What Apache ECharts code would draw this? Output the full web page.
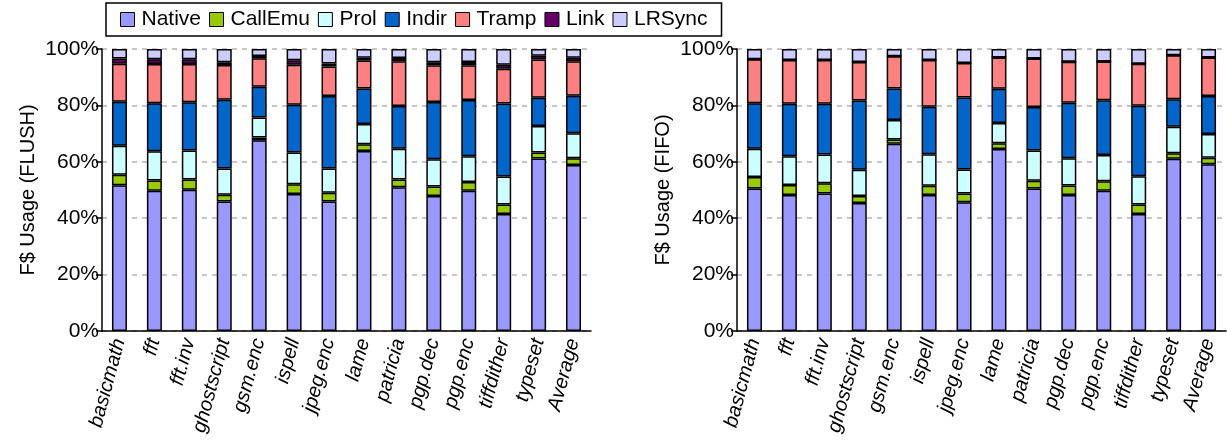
<!DOCTYPE html>
<html>
<head>
<meta charset="utf-8">
<script src="https://cdn.jsdelivr.net/npm/echarts@6/dist/echarts.min.js"></script>
<style>
  html, body { margin: 0; padding: 0; background: #fff; }
  #chart { width: 1227px; height: 444px; }
</style>
</head>
<body>
<div id="chart"></div>
<script>
// Benchmarks on the x axis
const categories = ['basicmath', 'fft', 'fft.inv', 'ghostscript', 'gsm.enc', 'ispell', 'jpeg.enc',
  'lame', 'patricia', 'pgp.dec', 'pgp.enc', 'tiffdither', 'typeset', 'Average'];

const seriesNames = ['Native', 'CallEmu', 'Prol', 'Indir', 'Tramp', 'Link', 'LRSync'];
const seriesColors = ['#9999FF', '#99CC00', '#CCFFFF', '#0066CC', '#FF8080', '#660066', '#CCCCFF'];

// F$ usage breakdown (percent) with the FLUSH policy
const flushNative  = [51.7, 49.7, 50.1, 45.9, 67.6, 48.6, 45.9, 63.8, 51.0, 47.9, 49.7, 41.5, 61.2, 58.9];
const flushCallEmu = [3.7, 3.7, 3.6, 2.4, 1.0, 3.4, 3.1, 2.4, 2.7, 3.3, 3.1, 3.4, 2.1, 2.4];
const flushProl    = [10.3, 10.3, 10.3, 9.3, 7.1, 11.3, 8.6, 7.2, 10.9, 9.7, 9.2, 9.9, 9.4, 8.8];
const flushIndir   = [15.6, 17.1, 17.1, 24.4, 10.9, 16.9, 25.7, 12.6, 15.2, 20.3, 19.9, 25.9, 10.0, 13.3];
const flushTramp   = [13.5, 13.9, 13.6, 12.3, 10.1, 14.2, 10.5, 9.9, 15.9, 13.0, 12.3, 12.3, 13.6, 12.3];
const flushLink    = [1.8, 1.7, 1.7, 1.0, 0.8, 1.6, 1.1, 1.0, 1.1, 1.1, 1.2, 1.4, 1.3, 1.2];
const flushLRSync  = [3.4, 3.6, 3.6, 4.7, 2.5, 4.0, 5.1, 3.1, 3.2, 4.7, 4.6, 5.6, 2.4, 3.1];

// F$ usage breakdown (percent) with the FIFO policy
const fifoNative  = [50.5, 48.2, 48.8, 45.4, 66.4, 48.2, 45.7, 64.5, 50.5, 48.2, 49.7, 41.5, 61.1, 59.1];
const fifoCallEmu = [4.1, 3.6, 3.6, 2.5, 1.5, 3.3, 3.1, 2.1, 2.8, 3.4, 3.4, 3.4, 1.9, 2.3];
const fifoProl    = [10.0, 10.2, 10.2, 9.3, 6.9, 11.2, 8.5, 7.2, 10.7, 9.7, 9.3, 10.0, 9.4, 8.5];
const fifoIndir   = [16.2, 18.6, 18.0, 24.5, 11.2, 16.8, 25.5, 12.1, 15.4, 19.6, 19.4, 25.0, 9.8, 13.4];
const fifoTramp   = [15.6, 15.5, 15.5, 13.7, 11.4, 16.6, 12.2, 11.1, 17.2, 14.6, 13.8, 14.9, 15.6, 13.7];
const fifoLink    = [0, 0, 0, 0, 0, 0, 0, 0, 0, 0, 0, 0, 0, 0];
const fifoLRSync  = [3.6, 3.9, 3.9, 4.6, 2.6, 3.9, 5.0, 3.0, 3.4, 4.5, 4.4, 5.2, 2.2, 3.0];

const yTicks = [0, 20, 40, 60, 80, 100];

const flushData = [flushNative, flushCallEmu, flushProl, flushIndir, flushTramp, flushLink, flushLRSync];
const fifoData = [fifoNative, fifoCallEmu, fifoProl, fifoIndir, fifoTramp, fifoLink, fifoLRSync];

const FONT = '"Liberation Sans", Arial, sans-serif';

function xAxisFor(gridIndex) {
  return {
    type: 'category',
    gridIndex: gridIndex,
    data: categories,
    axisLine: { lineStyle: { color: '#000', width: 1.5 } },
    axisTick: { alignWithLabel: true, length: 6, lineStyle: { color: '#000', width: 1.5 } },
    axisLabel: {
      rotate: 75, interval: 0, margin: 8,
      fontFamily: FONT, fontSize: 20, fontStyle: 'italic', color: '#000'
    },
    splitLine: { show: false }
  };
}

function yAxisFor(gridIndex, title) {
  return {
    type: 'value',
    gridIndex: gridIndex,
    min: yTicks[0], max: yTicks[yTicks.length - 1], interval: yTicks[1] - yTicks[0],
    name: title, nameLocation: 'middle', nameRotate: 90, nameGap: 64,
    nameTextStyle: { fontFamily: FONT, fontSize: 20, color: '#000' },
    axisLine: { show: true, lineStyle: { color: '#000', width: 1.5 } },
    axisTick: { show: true, length: 6, lineStyle: { color: '#000', width: 1.5 } },
    axisLabel: { formatter: '{value}%', margin: 3, fontFamily: FONT, fontSize: 21, color: '#000' },
    splitLine: { show: true, lineStyle: { color: '#b4b4b4', type: [5, 5], width: 1.5 } }
  };
}

const series = [];
[flushData, fifoData].forEach(function (data, g) {
  seriesNames.forEach(function (name, i) {
    series.push({
      name: name,
      type: 'bar',
      stack: 'usage' + g,
      xAxisIndex: g,
      yAxisIndex: g,
      barWidth: 15,
      data: data[i],
      itemStyle: { color: seriesColors[i], borderColor: '#000', borderWidth: 1.5 },
      emphasis: { disabled: true }
    });
  });
});

const chart = echarts.init(document.getElementById('chart'), null, { renderer: 'canvas' });
chart.setOption({
  animation: false,
  backgroundColor: '#fff',
  legend: {
    data: seriesNames,
    left: 106, top: 3,
    padding: [6, 14, 6, 14],
    itemWidth: 14, itemHeight: 14, itemGap: 8,
    borderColor: '#000', borderWidth: 1.5,
    icon: 'rect',
    itemStyle: { borderColor: '#000', borderWidth: 1 },
    textStyle: { fontFamily: FONT, fontSize: 21, color: '#000', padding: [0, 0, 0, 2] }
  },
  grid: [
    { left: 102, top: 49, width: 489, bottom: 113, containLabel: false },
    { left: 737, top: 49, width: 489, bottom: 113, containLabel: false }
  ],
  xAxis: [xAxisFor(0), xAxisFor(1)],
  yAxis: [yAxisFor(0, 'F$ Usage (FLUSH)'), yAxisFor(1, 'F$ Usage (FIFO)')],
  series: series
});
</script>
</body>
</html>
